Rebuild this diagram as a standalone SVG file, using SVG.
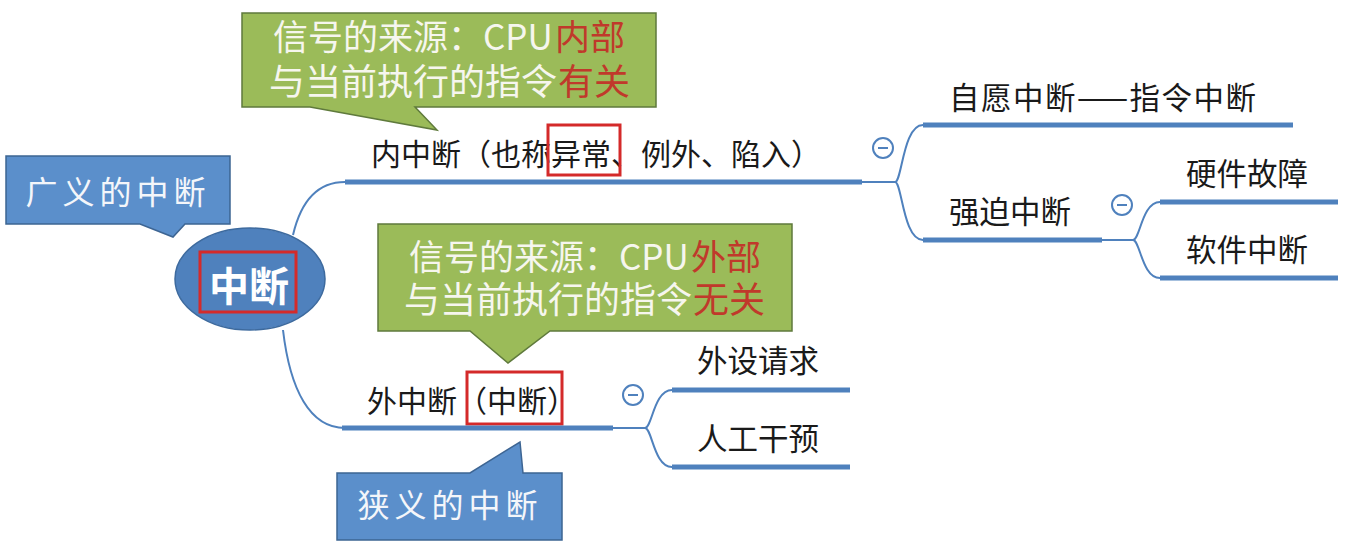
<svg xmlns="http://www.w3.org/2000/svg" width="1349" height="556" viewBox="0 0 1349 556">
<style>
text{font-family:"Noto Sans CJK SC","Noto Sans",sans-serif}
.lbl{font-size:30.5px;fill:#1a1a1a}
.lbl30{font-size:30px;fill:#1a1a1a}
.ul{stroke:#4f81bd;stroke-width:5;fill:none}
.con{stroke:#4f81bd;stroke-width:2;fill:none}
.green{fill:#9bbb59;stroke:#5f7a3c;stroke-width:1.5}
.blue{fill:#5b8fcb;stroke:#3d6593;stroke-width:1.5}
.gt{font-size:35px;fill:#f6f6ee}
.gt2{font-size:36px;fill:#f6f6ee}
.red{font-size:35px;fill:#c0392b}
.red2{font-size:36px;fill:#c0392b}
.bt{font-size:32px;fill:#f4f6fa;letter-spacing:5px}
.box{fill:none;stroke:#d42a2a;stroke-width:3}
.mc{fill:#fff;stroke:#4f81bd;stroke-width:2}
.mm{stroke:#4f81bd;stroke-width:2}
</style>
<rect width="1349" height="556" fill="#ffffff"/>
<g id="connectors">
<path class="con" d="M293 235 C300 205 315 182 345 182"/>
<path class="con" d="M283 330 C290 390 310 428 345 428"/>
<path class="con" d="M862 182 H895 M895 182 C902 182 903 125 923 125 M895 182 C902 182 903 240 923 240"/>
<path class="con" d="M1102 240 H1133 M1133 240 C1140 240 1142 202 1160 202 M1133 240 C1140 240 1142 278 1160 278"/>
<path class="con" d="M613 428 H645 M645 428 C652 428 654 390 672 390 M645 428 C652 428 654 467 672 467"/>
</g>
<g id="root">
<ellipse cx="250" cy="279" rx="75" ry="51" fill="#4f81bd" stroke="#3d6a9e" stroke-width="1.5"/>
<rect class="box" x="200" y="252" width="96" height="60"/>
<text x="249" y="301" text-anchor="middle" font-size="40" font-weight="bold" fill="#ffffff">中断</text>
</g>
<g id="callout-broad">
<path class="blue" d="M6 156 H230 V224 H185 L173 237 L140 224 H6 Z"/>
<text class="bt" x="118" y="204" text-anchor="middle">广义的中断</text>
</g>
<g id="callout-internal">
<path class="green" d="M242 13 H656 V107 H415 L437 130 L310 107 H242 Z"/>
<text class="gt" x="273" y="50">信号的来源：CPU</text>
<text class="red" x="555" y="50">内部</text>
<text class="gt2" x="269" y="95">与当前执行的指令</text>
<text class="red2" x="558" y="95">有关</text>
</g>
<g id="node-internal">
<text class="lbl30" x="371" y="165">内中断（也称异常、例外、陷入）</text>
<rect class="box" x="548" y="125" width="72" height="50"/>
<line class="ul" x1="345" y1="182" x2="862" y2="182"/>
<circle class="mc" cx="883" cy="148" r="10"/><line class="mm" x1="878" y1="148" x2="888" y2="148"/>
</g>
<g id="node-voluntary">
<text class="lbl" x="949" y="109" letter-spacing="1.5">自愿中断——指令中断</text>
<line class="ul" x1="923" y1="125" x2="1293" y2="125"/>
</g>
<g id="node-forced">
<text class="lbl" x="949" y="223">强迫中断</text>
<line class="ul" x1="923" y1="240" x2="1102" y2="240"/>
<circle class="mc" cx="1122" cy="205" r="10"/><line class="mm" x1="1117" y1="205" x2="1127" y2="205"/>
</g>
<g id="node-hardware">
<text class="lbl" x="1186" y="185">硬件故障</text>
<line class="ul" x1="1160" y1="202" x2="1338" y2="202"/>
</g>
<g id="node-software">
<text class="lbl" x="1186" y="261">软件中断</text>
<line class="ul" x1="1160" y1="278" x2="1338" y2="278"/>
</g>
<g id="callout-external">
<path class="green" d="M378 224 H792 V331 H550 L508 363 L470 331 H378 Z"/>
<text class="gt" x="409" y="270">信号的来源：CPU</text>
<text class="red" x="691" y="270">外部</text>
<text class="gt2" x="404" y="313">与当前执行的指令</text>
<text class="red2" x="693" y="313">无关</text>
</g>
<g id="node-external">
<text class="lbl30" x="367" y="412">外中断（中断）</text>
<rect class="box" x="467" y="372" width="95" height="52"/>
<line class="ul" x1="342" y1="428" x2="613" y2="428"/>
<circle class="mc" cx="633" cy="395" r="10"/><line class="mm" x1="628" y1="395" x2="638" y2="395"/>
</g>
<g id="callout-narrow">
<path class="blue" d="M337 473 H470 L520 442 L523 473 H562 V540 H337 Z"/>
<text class="bt" x="450" y="517" text-anchor="middle">狭义的中断</text>
</g>
<g id="node-peripheral">
<text class="lbl" x="697" y="372">外设请求</text>
<line class="ul" x1="672" y1="390" x2="850" y2="390"/>
</g>
<g id="node-manual">
<text class="lbl" x="697" y="450">人工干预</text>
<line class="ul" x1="672" y1="467" x2="850" y2="467"/>
</g>
</svg>
